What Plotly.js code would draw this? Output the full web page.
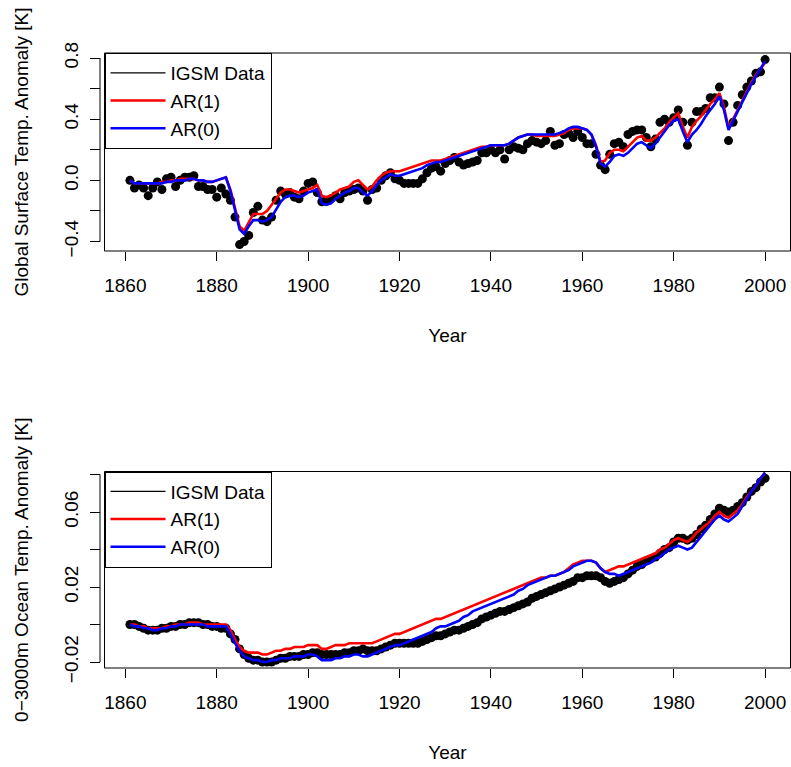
<!DOCTYPE html>
<html>
<head>
<meta charset="utf-8">
<script src="https://cdn.plot.ly/plotly-3.0.1.min.js"></script>
<style>html,body{margin:0;padding:0;background:#fff}#chart{width:791px;height:767px}</style>
</head>
<body>
<div id="chart"></div>
<script>
// ---------- data ----------
const years = [];
for (let y = 1861; y <= 2000; y++) years.push(y);

// Top panel: global surface temperature anomaly [K]
const surfIGSM = [
 0.00,-0.05,-0.03,-0.05,-0.10,-0.05,-0.01,-0.06, 0.01, 0.02, // 1861-1870
-0.04, 0.00, 0.02, 0.02, 0.03,-0.04,-0.04,-0.06,-0.06,-0.11, // 1871-1880
-0.05,-0.09,-0.13,-0.24,-0.42,-0.40,-0.36,-0.21,-0.17,-0.26, // 1881-1890
-0.27,-0.24,-0.13,-0.07,-0.09,-0.08,-0.11,-0.12,-0.07,-0.02, // 1891-1900
-0.01,-0.08,-0.14,-0.13,-0.12,-0.10,-0.12,-0.08,-0.07,-0.06, // 1901-1910
-0.05,-0.07,-0.13,-0.06,-0.05, 0.00, 0.03, 0.05, 0.01, 0.00, // 1911-1920
-0.02,-0.02,-0.02,-0.02, 0.01, 0.05, 0.08, 0.09, 0.06, 0.11, // 1921-1930
 0.13, 0.15, 0.12, 0.10, 0.11, 0.12, 0.13, 0.18, 0.18, 0.20, // 1931-1940
 0.18, 0.20, 0.14, 0.20, 0.22, 0.21, 0.20, 0.24, 0.26, 0.25, // 1941-1950
 0.24, 0.26, 0.32, 0.23, 0.24, 0.30, 0.31, 0.28, 0.32, 0.28, // 1951-1960
 0.24, 0.24, 0.17, 0.10, 0.07, 0.17, 0.24, 0.25, 0.22, 0.30, // 1961-1970
 0.32, 0.33, 0.33, 0.28, 0.22, 0.27, 0.38, 0.40, 0.38, 0.41, // 1971-1980
 0.46, 0.38, 0.23, 0.38, 0.45, 0.45, 0.47, 0.54, 0.54, 0.61, // 1981-1990
 0.50, 0.26, 0.38, 0.49, 0.56, 0.61, 0.65, 0.70, 0.71, 0.79  // 1991-2000
];
const surfAR1 = [
 0.00,-0.02,-0.02,-0.02,-0.02,-0.02,-0.02,-0.01,-0.01, 0.00,
 0.00, 0.01, 0.01, 0.01, 0.01, 0.00, 0.00,-0.01,-0.01, 0.00,
 0.01, 0.02,-0.06,-0.18,-0.30,-0.33,-0.27,-0.22,-0.22,-0.22,
-0.20,-0.16,-0.12,-0.08,-0.06,-0.06,-0.07,-0.08,-0.07,-0.06,
-0.05,-0.03,-0.10,-0.11,-0.10,-0.08,-0.06,-0.05,-0.04,-0.01,
 0.00,-0.03,-0.06,-0.04, 0.00, 0.03, 0.05, 0.06, 0.06, 0.06,
 0.07, 0.08, 0.09, 0.10, 0.11, 0.12, 0.13, 0.13, 0.13, 0.14,
 0.15, 0.16, 0.17, 0.18, 0.19, 0.20, 0.21, 0.22, 0.22, 0.23,
 0.23, 0.23, 0.23, 0.24, 0.26, 0.28, 0.29, 0.30, 0.30, 0.29,
 0.29, 0.29, 0.29, 0.29, 0.30, 0.31, 0.33, 0.34, 0.34, 0.34,
 0.33, 0.30, 0.23, 0.12, 0.13, 0.18, 0.20, 0.20, 0.19, 0.22,
 0.25, 0.28, 0.29, 0.26, 0.26, 0.28, 0.31, 0.34, 0.38, 0.41,
 0.44, 0.35, 0.28, 0.35, 0.39, 0.42, 0.46, 0.50, 0.53, 0.57,
 0.48, 0.34, 0.40, 0.46, 0.53, 0.59, 0.64, 0.69, 0.73, 0.77
];
const surfAR0 = [
 0.00,-0.02,-0.02,-0.02,-0.02,-0.02,-0.02,-0.02,-0.01,-0.01,
 0.00, 0.00, 0.00, 0.01, 0.01, 0.00, 0.00,-0.01,-0.01, 0.00,
 0.01, 0.02,-0.07,-0.20,-0.32,-0.35,-0.30,-0.26,-0.26,-0.27,
-0.26,-0.24,-0.19,-0.14,-0.11,-0.10,-0.10,-0.11,-0.10,-0.08,
-0.07,-0.06,-0.15,-0.16,-0.15,-0.12,-0.10,-0.08,-0.07,-0.05,
-0.05,-0.08,-0.10,-0.07,-0.03, 0.00, 0.02, 0.04, 0.03, 0.03,
 0.04, 0.05, 0.06, 0.07, 0.08, 0.10, 0.11, 0.12, 0.12, 0.13,
 0.14, 0.15, 0.16, 0.17, 0.18, 0.19, 0.20, 0.21, 0.22, 0.23,
 0.23, 0.23, 0.23, 0.24, 0.26, 0.28, 0.29, 0.30, 0.30, 0.30,
 0.30, 0.30, 0.30, 0.30, 0.31, 0.32, 0.34, 0.35, 0.35, 0.34,
 0.33, 0.30, 0.22, 0.11, 0.09, 0.12, 0.16, 0.17, 0.16, 0.18,
 0.21, 0.24, 0.25, 0.23, 0.21, 0.24, 0.28, 0.32, 0.36, 0.39,
 0.40, 0.32, 0.25, 0.30, 0.33, 0.37, 0.42, 0.46, 0.50, 0.55,
 0.46, 0.33, 0.39, 0.46, 0.52, 0.58, 0.63, 0.68, 0.73, 0.78
];

// Bottom panel: 0-3000m ocean temperature anomaly [K]
const oceanIGSM = [
 0.000, 0.000,-0.001,-0.002,-0.003,-0.003,-0.003,-0.002,-0.002,-0.001,
-0.001, 0.000, 0.000, 0.001, 0.001, 0.001, 0.000, 0.000,-0.001,-0.001,
-0.002,-0.002,-0.005,-0.008,-0.013,-0.016,-0.018,-0.019,-0.019,-0.020,
-0.020,-0.020,-0.019,-0.018,-0.018,-0.017,-0.017,-0.017,-0.016,-0.016,
-0.015,-0.015,-0.016,-0.016,-0.016,-0.016,-0.016,-0.015,-0.015,-0.014,
-0.014,-0.013,-0.014,-0.014,-0.014,-0.013,-0.012,-0.011,-0.010,-0.010,
-0.010,-0.010,-0.010,-0.010,-0.009,-0.008,-0.007,-0.006,-0.006,-0.005,
-0.004,-0.003,-0.003,-0.002,-0.001, 0.000, 0.001, 0.003, 0.004, 0.005,
 0.006, 0.007, 0.007, 0.008, 0.009, 0.010, 0.011, 0.012, 0.014, 0.015,
 0.016, 0.017, 0.018, 0.019, 0.020, 0.021, 0.022, 0.023, 0.025, 0.025,
 0.026, 0.026, 0.026, 0.025, 0.023, 0.022, 0.023, 0.024, 0.025, 0.027,
 0.029, 0.031, 0.032, 0.034, 0.035, 0.036, 0.038, 0.040, 0.041, 0.044,
 0.046, 0.046, 0.045, 0.046, 0.048, 0.051, 0.053, 0.056, 0.059, 0.062,
 0.061, 0.060, 0.061, 0.063, 0.065, 0.068, 0.071, 0.073, 0.076, 0.078
];
const oceanAR1 = [
 0.000, 0.000,-0.001,-0.001,-0.002,-0.002,-0.002,-0.002,-0.001,-0.001,
 0.000, 0.000, 0.000, 0.001, 0.001, 0.001, 0.000, 0.000, 0.000, 0.000,
 0.000, 0.000,-0.003,-0.008,-0.012,-0.014,-0.015,-0.015,-0.015,-0.016,
-0.016,-0.015,-0.014,-0.014,-0.013,-0.013,-0.012,-0.012,-0.012,-0.011,
-0.011,-0.011,-0.013,-0.013,-0.012,-0.011,-0.011,-0.011,-0.010,-0.010,
-0.010,-0.010,-0.010,-0.010,-0.009,-0.008,-0.007,-0.006,-0.005,-0.005,
-0.004,-0.003,-0.002,-0.001, 0.000, 0.001, 0.002, 0.003, 0.003, 0.004,
 0.005, 0.006, 0.007, 0.008, 0.009, 0.010, 0.011, 0.012, 0.013, 0.014,
 0.015, 0.016, 0.017, 0.018, 0.019, 0.020, 0.021, 0.022, 0.023, 0.024,
 0.025, 0.025, 0.026, 0.026, 0.027, 0.028, 0.030, 0.032, 0.033, 0.034,
 0.034, 0.034, 0.033, 0.030, 0.028, 0.029, 0.030, 0.031, 0.031, 0.032,
 0.033, 0.034, 0.035, 0.036, 0.037, 0.038, 0.040, 0.041, 0.043, 0.045,
 0.046, 0.045, 0.044, 0.046, 0.049, 0.051, 0.053, 0.055, 0.058, 0.060,
 0.058, 0.057, 0.059, 0.061, 0.064, 0.068, 0.071, 0.074, 0.078, 0.081
];
const oceanAR0 = [
 0.000,-0.001,-0.001,-0.002,-0.002,-0.003,-0.003,-0.002,-0.002,-0.001,
-0.001, 0.000, 0.000, 0.000, 0.000, 0.000, 0.000,-0.001,-0.001,-0.001,
-0.001,-0.001,-0.005,-0.010,-0.014,-0.017,-0.018,-0.019,-0.019,-0.020,
-0.020,-0.019,-0.019,-0.018,-0.018,-0.018,-0.017,-0.017,-0.017,-0.016,
-0.016,-0.017,-0.019,-0.019,-0.019,-0.018,-0.018,-0.017,-0.017,-0.016,
-0.016,-0.017,-0.017,-0.016,-0.015,-0.014,-0.013,-0.012,-0.011,-0.011,
-0.010,-0.009,-0.008,-0.007,-0.006,-0.005,-0.004,-0.002,-0.001,-0.001,
 0.000, 0.001, 0.002, 0.004, 0.005, 0.007, 0.008, 0.009, 0.010, 0.011,
 0.012, 0.013, 0.014, 0.015, 0.016, 0.018, 0.019, 0.021, 0.022, 0.023,
 0.024, 0.025, 0.026, 0.026, 0.027, 0.028, 0.029, 0.031, 0.032, 0.033,
 0.034, 0.034, 0.033, 0.030, 0.028, 0.027, 0.027, 0.026, 0.027, 0.028,
 0.029, 0.030, 0.031, 0.032, 0.033, 0.035, 0.036, 0.038, 0.040, 0.041,
 0.042, 0.041, 0.040, 0.041, 0.044, 0.047, 0.050, 0.053, 0.056, 0.058,
 0.056, 0.055, 0.057, 0.059, 0.063, 0.067, 0.071, 0.074, 0.078, 0.081
];

const xTicks = [1860, 1880, 1900, 1920, 1940, 1960, 1980, 2000];
const yTicksTop = [-0.4, -0.2, 0.0, 0.2, 0.4, 0.6, 0.8];
const yLabelsTop = ["\u22120.4", "", "0.0", "", "0.4", "", "0.8"];
const yTicksBot = [-0.02, 0.0, 0.02, 0.04, 0.06, 0.08];
const yLabelsBot = ["\u22120.02", "", "0.02", "", "0.06", ""];
const seriesNames = ["IGSM Data", "AR(1)", "AR(0)"];
const seriesColors = ["#000000", "#ff0000", "#0000ff"];

// ---------- layout helpers ----------
const W = 791, H = 767;
const FONT = "Liberation Sans, Arial, Helvetica, sans-serif";
const fs = 19;
const px = v => v / W;
const py = v => 1 - v / H;

function panelTraces(xa, ya, pts, ar1, ar0, leg) {
  return [
    {x: years, y: pts, xaxis: xa, yaxis: ya, type: 'scatter', mode: 'markers',
     marker: {color: seriesColors[0], size: 9, line: {width: 0}}, showlegend: false, hoverinfo: 'x+y'},
    {x: [null], y: [null], xaxis: xa, yaxis: ya, type: 'scatter', mode: 'lines',
     line: {color: seriesColors[0], width: 1.3}, name: seriesNames[0], legend: leg},
    {x: years, y: ar1, xaxis: xa, yaxis: ya, type: 'scatter', mode: 'lines',
     line: {color: seriesColors[1], width: 2.6}, name: seriesNames[1], legend: leg},
    {x: years, y: ar0, xaxis: xa, yaxis: ya, type: 'scatter', mode: 'lines',
     line: {color: seriesColors[2], width: 2.6}, name: seriesNames[2], legend: leg}
  ];
}

const data = [
  ...panelTraces('x', 'y', surfIGSM, surfAR1, surfAR0, 'legend'),
  ...panelTraces('x2', 'y2', oceanIGSM, oceanAR1, oceanAR0, 'legend2')
];

const xBase = {
  domain: [px(104.5), px(790.5)],
  range: [1855.44, 2005.56],
  tickmode: 'array', tickvals: xTicks,
  ticks: 'outside', ticklen: 9, tickwidth: 1, tickcolor: '#000',
  showgrid: false, zeroline: false, showline: false,
  tickfont: {family: FONT, size: fs, color: '#000'},
  ticklabelstandoff: 8,
  title: {text: 'Year', font: {family: FONT, size: fs, color: '#000'}, standoff: 33},
  automargin: false
};
const yBase = {
  anchor: 'free', position: px(100),
  ticks: 'outside', ticklen: 10, tickwidth: 1, tickcolor: '#000',
  tickangle: -90,
  showgrid: false, zeroline: false, showline: false,
  tickfont: {family: FONT, size: fs, color: '#000'},
  ticklabelstandoff: 4,
  automargin: false
};

const layout = {
  width: W, height: H,
  margin: {l: 0, r: 0, t: 0, b: 0},
  paper_bgcolor: '#fff', plot_bgcolor: '#fff',
  font: {family: FONT, size: fs, color: '#000'},
  showlegend: true,
  xaxis: Object.assign({}, xBase, {anchor: 'y'}),
  yaxis: Object.assign({}, yBase, {
    domain: [py(251), py(53)], range: [-0.462, 0.833],
    tickmode: 'array', tickvals: yTicksTop, ticktext: yLabelsTop,
    title: {text: 'Global Surface Temp. Anomaly [K]', font: {family: FONT, size: fs, color: '#000'}, standoff: 26}
  }),
  xaxis2: Object.assign({}, xBase, {anchor: 'y2'}),
  yaxis2: Object.assign({}, yBase, {
    domain: [py(668), py(471.5)], range: [-0.0232, 0.0816],
    tickmode: 'array', tickvals: yTicksBot, ticktext: yLabelsBot,
    title: {text: '0\u22123000m Ocean Temp. Anomaly [K]', font: {family: FONT, size: fs, color: '#000'}, standoff: 26}
  }),
  legend: {
    x: px(104.5), y: py(53), xanchor: 'left', yanchor: 'top',
    bgcolor: '#fff', bordercolor: '#000', borderwidth: 1,
    font: {family: FONT, size: fs, color: '#000'}, itemwidth: 55, tracegroupgap: 0
  },
  legend2: {
    x: px(104.5), y: py(471.5), xanchor: 'left', yanchor: 'top',
    bgcolor: '#fff', bordercolor: '#000', borderwidth: 1,
    font: {family: FONT, size: fs, color: '#000'}, itemwidth: 55, tracegroupgap: 0
  },
  shapes: [
    {type: 'rect', xref: 'x domain', yref: 'y domain', x0: 0, x1: 1, y0: 0, y1: 1, line: {color: '#000', width: 1}},
    {type: 'rect', xref: 'x2 domain', yref: 'y2 domain', x0: 0, x1: 1, y0: 0, y1: 1, line: {color: '#000', width: 1}},
    {type: 'line', xref: 'paper', yref: 'y', x0: px(100), x1: px(100), y0: yTicksTop[0], y1: yTicksTop[yTicksTop.length - 1], line: {color: '#000', width: 1}},
    {type: 'line', xref: 'paper', yref: 'y2', x0: px(100), x1: px(100), y0: yTicksBot[0], y1: yTicksBot[yTicksBot.length - 1], line: {color: '#000', width: 1}}
  ]
};

Plotly.newPlot('chart', data, layout, {displayModeBar: false, staticPlot: true});
</script>
</body>
</html>
